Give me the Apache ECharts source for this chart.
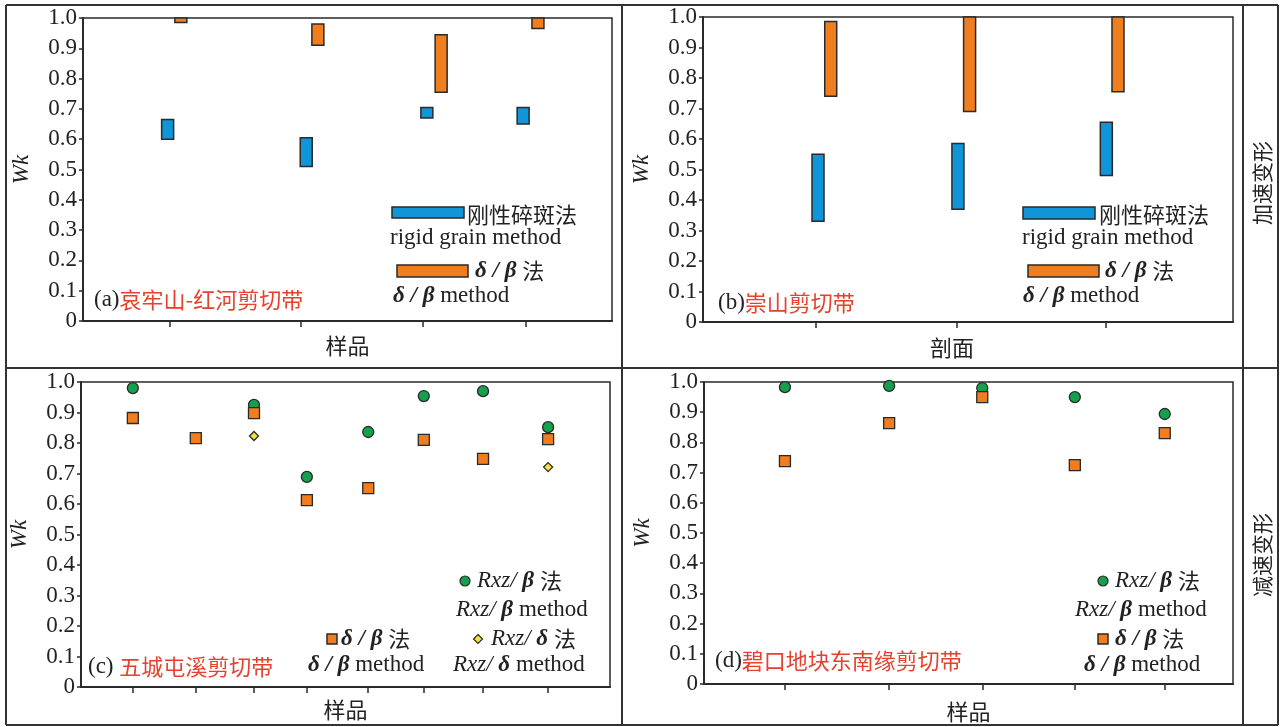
<!DOCTYPE html>
<html><head><meta charset="utf-8">
<script src="https://cdn.jsdelivr.net/npm/echarts@6/dist/echarts.min.js"></script>
<style>html,body{margin:0;padding:0;background:#fff}#c{width:1284px;height:727px}</style>
</head><body><div id="c"></div>
<script>
// ---- Data ----
// (a) 哀牢山-红河剪切带 : ranges of Wk
const aTicks = [16.4, 41.2, 64.3, 83.7];
const aBlueX = [16.0, 42.2, 65.0, 83.2];
const aBlueLow = [0.60, 0.51, 0.67, 0.65];
const aBlueHigh = [0.665, 0.605, 0.705, 0.705];
const aOrangeX = [18.5, 44.4, 67.7, 86.0];
const aOrangeLow = [0.985, 0.91, 0.755, 0.965];
const aOrangeHigh = [1.0, 0.98, 0.945, 1.0];
// (b) 崇山剪切带
const bTicks = [21.3, 47.9, 76.0];
const bBlueX = [21.7, 48.1, 76.1];
const bBlueLow = [0.33, 0.37, 0.48];
const bBlueHigh = [0.55, 0.585, 0.655];
const bOrangeX = [24.1, 50.3, 78.3];
const bOrangeLow = [0.74, 0.69, 0.755];
const bOrangeHigh = [0.985, 1.0, 1.0];
// (c) 五城屯溪剪切带
const cX = [9.8, 21.7, 32.7, 42.7, 54.3, 64.8, 76.0, 88.3];
const cRxzBeta = [0.98, null, 0.925, 0.689, 0.836, 0.954, 0.97, 0.852];
const cDeltaBeta = [0.882, 0.816, 0.898, 0.613, 0.652, 0.81, 0.748, 0.813];
const cRxzDelta = [null, null, 0.823, null, null, null, null, 0.721];
// (d) 碧口地块东南缘剪切带
const dX = [15.3, 35.0, 52.6, 70.1, 87.1];
const dRxzBeta = [0.983, 0.987, 0.98, 0.95, 0.894];
const dDeltaBeta = [0.738, 0.864, 0.95, 0.725, 0.831];
const yTickLabels = ['0','0.1','0.2','0.3','0.4','0.5','0.6','0.7','0.8','0.9','1.0'];

// ---- Styles ----
const BLUE = '#0f95d8', ORANGE = '#f07d1e', GREEN = '#14a04c', YELLOW = '#f6e23c';
const RED = '#e5412d', INK = '#222', EDGE = '#2a2a2a';
const SERIF = '"Liberation Serif","Times New Roman",serif';
const CJK = '"Noto Sans CJK SC",sans-serif';

const chart = echarts.init(document.getElementById('c'), null, {renderer: 'canvas'});

const grids = [
  {left: 83, top: 18, width: 529, height: 303},
  {left: 703, top: 17, width: 530, height: 305},
  {left: 81, top: 382, width: 529, height: 305},
  {left: 704, top: 382, width: 529, height: 302}
].map(g => Object.assign(g, {show: true, borderColor: EDGE, borderWidth: 1.5, containLabel: false}));

function xAxisFor(i, ticks, name, gap, pad) {
  return {
    gridIndex: i, type: 'value', min: 0, max: 100,
    axisLine: {show: true, lineStyle: {color: EDGE, width: 2}},
    axisTick: {show: true, customValues: ticks, length: 6, inside: false, lineStyle: {color: EDGE, width: 1.5}},
    axisLabel: {show: false}, splitLine: {show: false},
    name: name, nameLocation: 'middle', nameGap: gap,
    nameTextStyle: {fontFamily: CJK, fontSize: 22, color: INK, padding: pad || 0}
  };
}
function yAxisFor(i) {
  return {
    gridIndex: i, type: 'value', min: 0, max: 1, interval: 0.1,
    axisLine: {show: true, lineStyle: {color: EDGE, width: 2}},
    axisTick: {show: true, length: 4, lineStyle: {color: EDGE, width: 1.5}},
    axisLabel: {margin: 6, fontFamily: SERIF, fontSize: 23, color: INK,
      formatter: v => yTickLabels[Math.round(v * 10)]},
    splitLine: {show: false},
    name: 'Wk', nameLocation: 'middle', nameGap: 50, nameRotate: 90,
    nameTextStyle: {fontFamily: SERIF, fontStyle: 'italic', fontSize: 23, color: INK}
  };
}

function rangeSeries(idx, xs, lows, highs, color) {
  return {
    type: 'custom', xAxisIndex: idx, yAxisIndex: idx,
    data: xs.map((x, k) => [x, lows[k], highs[k]]),
    encode: {x: 0, y: [1, 2]},
    clip: false,
    renderItem: function (params, api) {
      const top = api.coord([api.value(0), api.value(2)]);
      const bot = api.coord([api.value(0), api.value(1)]);
      return {type: 'rect', shape: {x: top[0] - 6, y: top[1], width: 12, height: bot[1] - top[1]},
        style: {fill: color, stroke: EDGE, lineWidth: 1.5}};
    }
  };
}
function pointSeries(idx, xs, ys, symbol, size, color) {
  return {
    type: 'scatter', xAxisIndex: idx, yAxisIndex: idx, symbol: symbol, symbolSize: size,
    data: xs.map((x, k) => ys[k] == null ? null : [x, ys[k]]).filter(d => d),
    itemStyle: {color: color, borderColor: EDGE, borderWidth: 1.3, opacity: 1},
    z: symbol === 'circle' ? 3 : 4
  };
}

// ---- graphic helpers ----
const G = [];
function line(x1, y1, x2, y2) {
  G.push({type: 'line', shape: {x1, y1, x2, y2}, style: {stroke: '#333', lineWidth: 2}, z: 10});
}
function txt(x, y, text, rich, extra) {
  G.push(Object.assign({type: 'text', x, y, z: 10,
    style: {text, rich, align: 'left', verticalAlign: 'middle', fill: INK,
      fontFamily: SERIF, fontSize: 22}}, extra || {}));
}
const R = {
  s: {fontFamily: SERIF, fontSize: 23, fill: INK},
  g: {fontFamily: SERIF, fontSize: 23, fontStyle: 'italic', fontWeight: 'bold', fill: INK},
  i: {fontFamily: SERIF, fontSize: 23, fontStyle: 'italic', fill: INK},
  c: {fontFamily: CJK, fontSize: 22, fill: INK},
  r: {fontFamily: CJK, fontSize: 22, fill: RED}
};
function rectMark(x, y, w, h, color) {
  G.push({type: 'rect', shape: {x, y, width: w, height: h}, style: {fill: color, stroke: EDGE, lineWidth: 1.5}, z: 10});
}
function circleMark(cx, cy, r, color) {
  G.push({type: 'circle', shape: {cx, cy, r}, style: {fill: color, stroke: EDGE, lineWidth: 1.2}, z: 10});
}
function diamondMark(cx, cy, r, color) {
  G.push({type: 'polygon', shape: {points: [[cx, cy - r], [cx + r, cy], [cx, cy + r], [cx - r, cy]]},
    style: {fill: color, stroke: EDGE, lineWidth: 1.2}, z: 10});
}

// frame
line(6, 5, 1278, 5); line(6, 725, 1278, 725); line(6, 5, 6, 725); line(1278, 5, 1278, 725);
line(622, 5, 622, 725); line(1243, 5, 1243, 725); line(6, 368, 1278, 368);
// right column
txt(1262, 183, '', null, {rotation: Math.PI / 2, style: {text: '加速变形', align: 'center', verticalAlign: 'middle', fontFamily: CJK, fontSize: 21, fill: INK}});
txt(1262, 555, '', null, {rotation: Math.PI / 2, style: {text: '减速变形', align: 'center', verticalAlign: 'middle', fontFamily: CJK, fontSize: 21, fill: INK}});

// panel labels
txt(94, 300, '{s|(a)}{r|哀牢山-红河剪切带}', R);
txt(718, 303, '{s|(b)}{r|崇山剪切带}', R);
txt(88, 667, '{s|(c) }{r|五城屯溪剪切带}', R);
txt(715, 661, '{s|(d)}{r|碧口地块东南缘剪切带}', R);

// legends (a)
rectMark(392, 207, 72, 11, BLUE); txt(467, 215, '{c|刚性碎斑法}', R);
txt(390, 238, '{s|rigid grain method}', R);
rectMark(397, 265, 71, 12, ORANGE); txt(475, 271, '{g|δ / β }{c|法}', R);
txt(393, 296, '{g|δ / β }{s|method}', R);
// legends (b)
rectMark(1023, 207, 72, 12, BLUE); txt(1099, 215, '{c|刚性碎斑法}', R);
txt(1022, 238, '{s|rigid grain method}', R);
rectMark(1028, 265, 71, 12, ORANGE); txt(1105, 271, '{g|δ / β }{c|法}', R);
txt(1023, 296, '{g|δ / β }{s|method}', R);
// legends (c)
circleMark(465, 581, 5, GREEN); txt(477, 581, '{i|Rxz/ }{g|β }{c|法}', R);
txt(456, 610, '{i|Rxz/ }{g|β }{s|method}', R);
diamondMark(478, 639, 4.5, YELLOW); txt(491, 639, '{i|Rxz/ }{g|δ }{c|法}', R);
txt(453, 665, '{i|Rxz/ }{g|δ }{s|method}', R);
rectMark(327, 634, 10, 10, ORANGE); txt(341, 639, '{g|δ / β }{c|法}', R);
txt(308, 665, '{g|δ / β }{s|method}', R);
// legends (d)
circleMark(1103, 581, 5, GREEN); txt(1115, 581, '{i|Rxz/ }{g|β }{c|法}', R);
txt(1075, 610, '{i|Rxz/ }{g|β }{s|method}', R);
rectMark(1098, 634, 10, 10, ORANGE); txt(1115, 639, '{g|δ / β }{c|法}', R);
txt(1084, 665, '{g|δ / β }{s|method}', R);

const option = {
  backgroundColor: '#fff',
  animation: false,
  grid: grids,
  xAxis: [
    xAxisFor(0, aTicks, '样品', 14),
    xAxisFor(1, bTicks, '剖面', 15, [0, 32, 0, 0]),
    xAxisFor(2, cX, '样品', 12),
    xAxisFor(3, dX, '样品', 17)
  ],
  yAxis: [yAxisFor(0), yAxisFor(1), yAxisFor(2), yAxisFor(3)],
  series: [
    rangeSeries(0, aBlueX, aBlueLow, aBlueHigh, BLUE),
    rangeSeries(0, aOrangeX, aOrangeLow, aOrangeHigh, ORANGE),
    rangeSeries(1, bBlueX, bBlueLow, bBlueHigh, BLUE),
    rangeSeries(1, bOrangeX, bOrangeLow, bOrangeHigh, ORANGE),
    pointSeries(2, cX, cRxzBeta, 'circle', 11, GREEN),
    pointSeries(2, cX, cDeltaBeta, 'rect', 11, ORANGE),
    pointSeries(2, cX, cRxzDelta, 'diamond', 9, YELLOW),
    pointSeries(3, dX, dRxzBeta, 'circle', 11, GREEN),
    pointSeries(3, dX, dDeltaBeta, 'rect', 11, ORANGE)
  ],
  graphic: G
};
chart.setOption(option);
</script>
</body></html>
